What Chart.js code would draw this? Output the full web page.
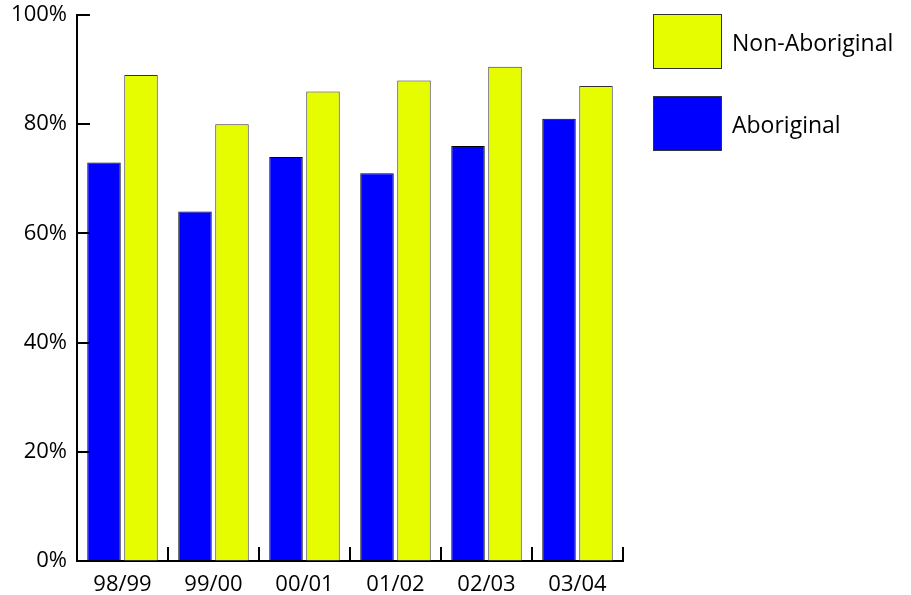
<!DOCTYPE html>
<html>
<head>
<meta charset="utf-8">
<script src="https://cdn.jsdelivr.net/npm/chart.js@4/dist/chart.umd.min.js"></script>
<style>
  html, body { margin: 0; padding: 0; background: #fff; }
  #wrap { position: relative; width: 911px; height: 595px; }
  .legend-item { position: absolute; left: 653px; display: flex; align-items: center; }
  .legend-box { width: 67px; height: 53px; border: 1px solid #333; box-sizing: content-box; }
  .legend-text { margin-left: 10px; font: 23px "Open Sans", sans-serif; color: #000; }
</style>
</head>
<body>
<div id="wrap">
  <canvas id="chart" width="911" height="595"></canvas>
  <div class="legend-item" style="top:14px"><div class="legend-box" style="background:#E6FD00"></div><span class="legend-text">Non-Aboriginal</span></div>
  <div class="legend-item" style="top:96px"><div class="legend-box" style="background:#0000FF"></div><span class="legend-text">Aboriginal</span></div>
</div>
<script>
// categories and series
const years = ['98/99', '99/00', '00/01', '01/02', '02/03', '03/04'];
const aboriginal = [73, 64, 74, 71, 76, 81];
const nonAboriginal = [89, 80, 86, 88, 90.5, 87];
const yTicks = [0, 20, 40, 60, 80, 100];

const FONT = { family: '"Open Sans", sans-serif', size: 22 };

// inward pointing tick marks, like the original
const innerTicks = {
  id: 'innerTicks',
  afterDatasetsDraw(chart) {
    const { ctx, chartArea, scales } = chart;
    ctx.save();
    ctx.strokeStyle = '#000';
    ctx.lineWidth = 2;
    ctx.beginPath();
    yTicks.forEach(v => {
      if (v === 0) return;
      const y = Math.round(scales.y.getPixelForValue(v));
      ctx.moveTo(chartArea.left, y);
      ctx.lineTo(chartArea.left + 13, y);
    });
    const step = (chartArea.right - chartArea.left) / years.length;
    for (let i = 1; i <= years.length; i++) {
      const x = Math.round(chartArea.left + step * i);
      ctx.moveTo(x, chartArea.bottom);
      ctx.lineTo(x, chartArea.bottom - 14);
    }
    ctx.stroke();
    ctx.restore();
  }
};

new Chart(document.getElementById('chart'), {
  type: 'bar',
  data: {
    labels: years,
    datasets: [
      {
        label: 'Aboriginal',
        data: aboriginal,
        backgroundColor: '#0000FF',
        borderColor: '#000',
        borderWidth: 1,
        borderSkipped: false,
      },
      {
        label: 'Non-Aboriginal',
        data: nonAboriginal,
        backgroundColor: '#E6FD00',
        borderColor: '#333',
        borderWidth: 1,
        borderSkipped: false,
      },
    ],
  },
  options: {
    responsive: false,
    animation: false,
    events: [],
    categoryPercentage: 0.813,
    barPercentage: 0.905,
    layout: { padding: { left: 0, top: 15, right: 288, bottom: 0 } },
    plugins: { legend: { display: false }, tooltip: { enabled: false } },
    scales: {
      x: {
        grid: { display: false },
        border: { display: true, color: '#000', width: 2 },
        ticks: { color: '#000', font: FONT, padding: 3, maxRotation: 0 },
        afterFit: s => { s.height = 34; s.paddingLeft = 0; s.paddingRight = 0; },
      },
      y: {
        min: 0,
        max: 100,
        afterBuildTicks: s => { s.ticks = yTicks.map(v => ({ value: v })); },
        grid: { display: false },
        border: { display: true, color: '#000', width: 2 },
        ticks: { color: '#000', font: FONT, padding: 2, callback: v => v + '%' },
        afterFit: s => { s.width = 77; s.paddingTop = 0; s.paddingBottom = 0; },
      },
    },
  },
  plugins: [innerTicks],
});
</script>
</body>
</html>
